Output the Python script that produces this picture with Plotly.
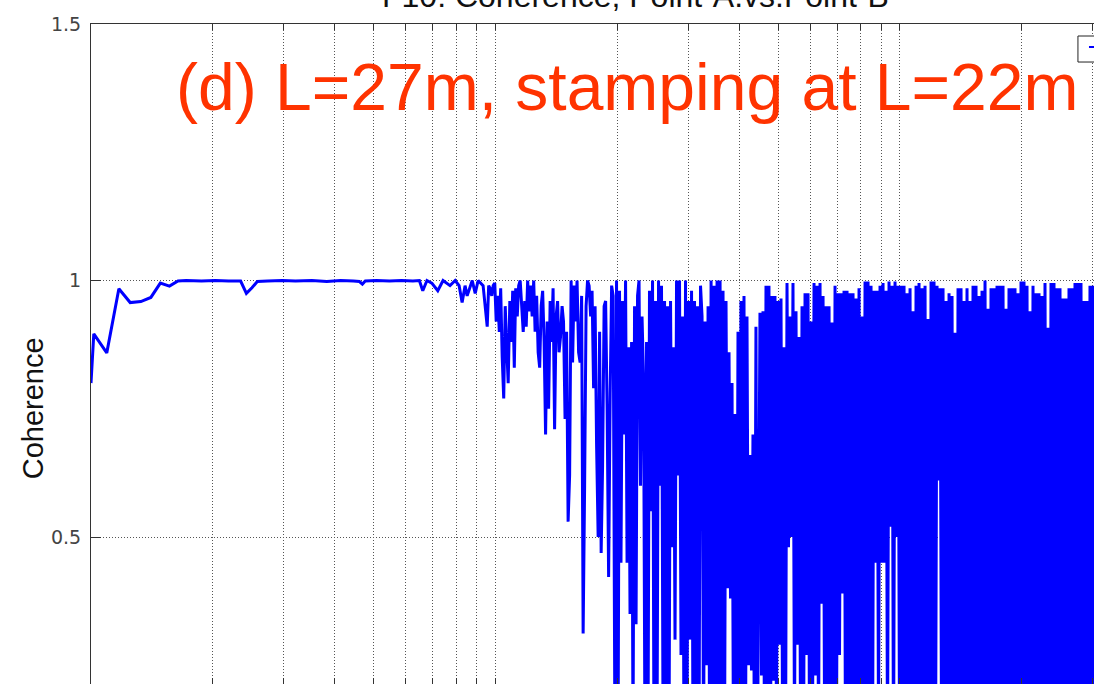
import plotly.graph_objects as go

# ---------------- data: coherence Point-A vs Point-B (frequency in Hz) ----------------
# low band (sparse FFT bins)
freq_low = [10.0, 10.16, 10.94, 11.72, 12.50, 13.28, 14.06, 14.84, 15.63, 16.41,
            17.19, 18.75, 20.31, 21.88, 23.44, 24.22, 25.00, 25.78, 27.34, 29.69,
            32.03, 35.16, 38.28, 41.41, 44.53, 46.09, 46.88, 47.66, 50.78, 54.69,
            58.59, 62.50, 64.84]
coh_low = [0.80, 0.896, 0.859, 0.984, 0.957, 0.959, 0.967, 0.995, 0.989, 0.999,
           1.0, 0.999, 1.0, 0.999, 0.999, 0.975, 0.986, 0.998, 0.999, 1.0,
           0.999, 1.0, 0.998, 1.0, 0.999, 0.998, 0.993, 0.999, 1.0, 0.999,
           1.0, 0.999, 1.0]

# 65-95 Hz
freq_b1 = [66.1, 67.7, 69.6, 72.0, 74.2, 77.2, 79.5, 81.3, 82.7, 84.1,
           85.1, 87.6, 89.1, 90.6, 93.2]
coh_b1 = [0.98, 1.0, 0.995, 0.98, 1.0, 0.99, 1.0, 0.99, 0.957, 0.99,
          0.97, 1.0, 0.975, 1.0, 0.99]

# 95-197 Hz
freq_b2 = [95.4, 96.2, 97.0, 97.9, 98.7, 99.6, 100.4, 101.3, 102.2, 103.0,
           103.9, 104.8, 105.7, 106.6, 107.5, 108.5, 109.4, 110.3, 111.3, 112.2,
           113.2, 114.1, 115.1, 116.1, 117.1, 118.1, 119.1, 120.1, 121.1, 122.2,
           123.2, 124.3, 125.3, 126.4, 127.5, 128.6, 129.7, 130.8, 131.9, 133.0,
           134.2, 135.3, 136.5, 137.6, 138.8, 140.0, 141.2, 142.4, 143.6, 144.8,
           146.1, 147.3, 148.6, 149.9, 151.2, 152.5, 153.8, 155.1, 156.4, 157.8,
           159.1, 160.5, 161.9, 163.3, 164.7, 166.1, 167.5, 168.9, 170.4, 171.9,
           173.3, 174.8, 176.3, 177.8, 179.4, 180.9, 182.5, 184.0, 185.6, 187.2,
           188.8, 190.4, 192.1, 193.7, 195.4]
coh_b2 = [0.91, 0.99, 0.985, 0.97, 0.99, 0.995, 0.92, 0.97, 0.90, 0.985,
          0.85, 0.77, 0.95, 0.87, 0.80, 0.96, 0.88, 0.98, 0.83, 0.985,
          0.93, 0.99, 1.0, 0.95, 0.90, 0.96, 0.91, 1.0, 0.94, 0.99,
          0.93, 1.0, 0.90, 0.97, 0.86, 0.83, 0.95, 0.98, 0.88, 0.70,
          0.92, 0.75, 0.96, 0.88, 0.985, 0.71, 0.93, 0.96, 0.86, 0.89,
          0.95, 0.92, 0.73, 0.90, 0.53, 0.62, 1.0, 0.84, 0.99, 0.92,
          1.0, 0.86, 0.84, 0.97, 0.312, 0.60, 0.95, 1.0, 0.99, 0.93,
          0.98, 0.79, 0.95, 0.68, 0.50, 0.90, 0.469, 0.64, 0.95, 0.96,
          0.75, 0.422, 0.78, 0.99, 0.97]

# 197-322 Hz
freq_c1 = [197.5, 199.2, 200.9, 202.6, 204.3, 206.1, 207.9, 209.7, 211.5, 213.3,
           215.1, 217.0, 218.8, 220.7, 222.6, 224.5, 226.4, 228.3, 230.3, 232.3,
           234.3, 236.3, 238.3, 240.3, 242.4, 244.5, 246.6, 248.7, 250.8, 253.0,
           255.1, 257.3, 259.5, 261.8, 264.0, 266.3, 268.6, 270.9, 273.2, 275.5,
           277.9, 280.3, 282.7, 285.1, 287.5, 290.0, 292.5, 295.0, 297.5, 300.1,
           302.7, 305.3, 307.9, 310.5, 313.2, 315.9, 318.6, 321.3]
coh_c1 = [0.05, 1.0, 0.07, 0.98, 0.45, 0.96, 0.70, 1.0, 0.45, 0.87,
          0.35, 0.88, 0.10, 0.95, 0.33, 0.97, 1.0, 0.60, 0.93, 0.81,
          0.05, 0.88, 0.10, 0.98, 0.55, 1.0, 0.05, 0.96, 0.08, 1.0,
          0.60, 0.99, 0.15, 0.96, 0.05, 0.95, 0.10, 0.96, 0.48, 0.87,
          0.30, 1.0, 0.62, 1.0, 0.27, 0.93, 0.05, 1.0, 0.10, 0.96,
          0.30, 0.98, 0.05, 0.96, 0.05, 0.95, 0.08, 0.99]

# 322-445 Hz
freq_c2 = [324.1, 326.9, 329.7, 332.5, 335.4, 338.3, 341.2, 344.1, 347.0, 350.0,
           353.0, 356.0, 359.1, 362.1, 365.2, 368.3, 371.5, 374.7, 377.9, 381.1,
           384.4, 387.7, 391.0, 394.3, 397.7, 401.1, 404.5, 408.0, 411.5, 415.0,
           418.6, 422.2, 425.8, 429.4, 433.1, 436.8, 440.5, 444.3]
coh_c2 = [0.93, 0.05, 0.92, 0.25, 0.95, 0.08, 1.0, 0.05, 0.99, 0.10,
          1.0, 0.05, 1.0, 0.15, 0.98, 0.05, 0.96, 0.40, 0.86, 0.38,
          0.80, 0.05, 0.74, 0.05, 0.90, 0.05, 0.96, 0.10, 0.97, 0.05,
          0.93, 0.25, 0.66, 0.24, 0.70, 0.05, 0.91, 0.05]

# 450-1000 Hz
freq_d = [450.7, 454.6, 458.5, 462.4, 466.4, 470.4, 474.4, 478.5, 482.6, 486.7,
          490.9, 495.1, 499.4, 503.7, 508.0, 512.4, 516.8, 521.2, 525.7, 530.2,
          534.7, 539.3, 543.9, 548.6, 553.3, 558.1, 562.9, 567.7, 572.6, 577.5,
          582.5, 587.5, 592.5, 597.6, 602.7, 607.9, 613.1, 618.4, 623.7, 629.0,
          634.4, 639.9, 645.4, 650.9, 656.5, 662.1, 667.8, 673.5, 679.3, 685.1,
          691.0, 696.9, 702.9, 708.9, 715.0, 721.1, 727.3, 733.5, 739.8, 746.1,
          752.5, 759.0, 765.5, 772.1, 778.7, 785.4, 792.1, 798.9, 805.8, 812.7,
          819.7, 826.7, 833.8, 840.9, 848.1, 855.4, 862.7, 870.1, 877.6, 885.1,
          892.7, 900.4, 908.1, 915.9, 923.7, 931.6, 939.6, 947.7, 955.8, 964.0,
          972.3, 980.6, 989.0, 997.5]
coh_d = [0.937, 0.23, 0.94, 0.06, 0.99, 0.11, 0.99, 0.03, 0.97, 0.22,
         0.97, 0.09, 0.96, 0.29, 0.965, 0.14, 0.87, 0.04, 0.995, 0.48,
         0.93, 0.50, 0.995, 0.08, 0.94, 0.29, 0.89, 0.12, 0.95, 0.02,
         0.975, 0.27, 0.975, 0.07, 0.92, 0.10, 0.995, 0.23, 0.99, 0.05,
         0.995, 0.37, 0.97, 0.13, 0.95, 0.03, 0.95, 0.09, 0.918, 0.06,
         0.99, 0.11, 0.975, 0.27, 0.975, 0.39, 0.98, 0.04, 0.98, 0.15,
         0.975, 0.08, 0.975, 0.02, 0.965, 0.10, 0.985, 0.06, 0.93, 0.12,
         0.998, 0.03, 0.998, 0.09, 0.99, 0.05, 0.98, 0.45, 0.98, 0.11,
         0.99, 0.45, 0.995, 0.45, 0.98, 0.07, 0.998, 0.52, 0.99, 0.04,
         0.998, 0.50, 0.99, 0.10]

# 1000-3050 Hz
freq_e = [1006.1, 1014.7, 1023.4, 1032.2, 1041.0, 1050.0, 1059.0, 1068.1, 1077.2, 1086.5,
          1095.8, 1105.2, 1114.7, 1124.2, 1133.9, 1143.6, 1153.4, 1163.3, 1173.3, 1183.3,
          1193.5, 1203.7, 1214.0, 1224.4, 1234.9, 1245.5, 1256.2, 1267.0, 1277.8, 1288.8,
          1299.8, 1311.0, 1322.2, 1333.6, 1345.0, 1356.5, 1368.2, 1379.9, 1391.7, 1403.6,
          1415.7, 1427.8, 1440.0, 1452.4, 1464.8, 1477.4, 1490.0, 1502.8, 1515.7, 1528.7,
          1541.8, 1555.0, 1568.3, 1581.8, 1595.3, 1609.0, 1622.8, 1636.7, 1650.7, 1664.9,
          1679.2, 1693.6, 1708.1, 1722.7, 1737.5, 1752.4, 1767.4, 1782.6, 1797.9, 1813.3,
          1828.8, 1844.5, 1860.3, 1876.3, 1892.4, 1908.6, 1924.9, 1941.4, 1958.1, 1974.9,
          1991.8, 2008.9, 2026.1, 2043.5, 2061.0, 2078.7, 2096.5, 2114.5, 2132.6, 2150.9,
          2169.3, 2187.9, 2206.7, 2225.6, 2244.7, 2263.9, 2283.3, 2302.9, 2322.6, 2342.5,
          2362.6, 2382.9, 2403.3, 2423.9, 2444.7, 2465.7, 2486.8, 2508.1, 2529.6, 2551.3,
          2573.2, 2595.3, 2617.5, 2640.0, 2662.6, 2685.4, 2708.4, 2731.6, 2755.1, 2778.7,
          2802.5, 2826.5, 2850.7, 2875.2, 2899.8, 2924.7, 2949.8, 2975.1, 3000.6, 3026.3,
          3052.2]
coh_e = [0.99, 0.07, 0.99, 0.12, 0.975, 0.04, 0.985, 0.09, 0.94, 0.02,
         0.99, 0.10, 0.995, 0.06, 0.985, 0.13, 0.99, 0.03, 0.925, 0.08,
         0.998, 0.11, 0.998, 0.05, 0.99, 0.61, 0.985, 0.09, 0.985, 0.02,
         0.96, 0.12, 0.975, 0.06, 0.97, 0.10, 0.898, 0.04, 0.985, 0.14,
         0.985, 0.03, 0.96, 0.08, 0.985, 0.11, 0.96, 0.05, 0.99, 0.09,
         0.99, 0.02, 0.97, 0.12, 0.98, 0.07, 1.0, 0.10, 0.945, 0.04,
         0.985, 0.13, 0.985, 0.06, 0.99, 0.09, 0.99, 0.03, 0.99, 0.11,
         0.945, 0.05, 0.985, 0.08, 0.985, 0.12, 0.985, 0.02, 0.975, 0.10,
         0.998, 0.06, 0.998, 0.14, 0.99, 0.04, 0.94, 0.09, 0.99, 0.07,
         0.975, 0.11, 0.975, 0.03, 0.97, 0.08, 0.995, 0.12, 0.908, 0.05,
         0.995, 0.10, 0.995, 0.06, 0.985, 0.13, 0.985, 0.02, 0.965, 0.09,
         0.965, 0.04, 0.985, 0.11, 0.985, 0.07, 0.995, 0.10, 0.995, 0.03,
         0.995, 0.12, 0.96, 0.06, 0.96, 0.09, 0.99, 0.05, 0.99, 0.08,
         0.99]

title_text = "F10: Coherence, Point-A.vs.Point-B"
ylabel_text = "Coherence"
note_text = "(d) L=27m, stamping at L=22m"

# ---------------- build ----------------
freq, coh = [], []
for fs, cs in [(freq_low, coh_low), (freq_b1, coh_b1), (freq_b2, coh_b2),
               (freq_c1, coh_c1), (freq_c2, coh_c2), (freq_d, coh_d),
               (freq_e, coh_e)]:
    for f, c in zip(fs, cs):
        freq.append(f)
        coh.append(c)

AX = "#333333"
GRID = "#555555"

fig = go.Figure()
fig.add_trace(go.Scatter(
    x=freq, y=coh, mode="lines", name="Coherence", showlegend=False,
    line=dict(color="#0000FF", width=3, simplify=False),
))

fig.update_layout(
    width=1094, height=684,
    margin=dict(l=91, r=0, t=24, b=0),
    paper_bgcolor="white", plot_bgcolor="white",
    showlegend=False,
    xaxis=dict(
        type="log", range=[1.0, 3.4797], dtick="D1",
        showgrid=True, gridcolor=GRID, gridwidth=1, griddash="1px,2px",
        showticklabels=False, ticks="inside", ticklen=6, tickcolor=AX,
        showline=True, linecolor=AX, linewidth=1, mirror="ticks", zeroline=False,
    ),
    yaxis=dict(
        range=[0.2135, 1.5], tick0=0, dtick=0.5,
        showgrid=True, gridcolor=GRID, gridwidth=1, griddash="1px,2px",
        ticks="inside", ticklen=10, tickcolor=AX,
        showline=True, linecolor=AX, linewidth=1, mirror=False, zeroline=False,
        tickfont=dict(family="DejaVu Sans", size=19, color="#444444"),
        ticklabelstandoff=5,
    ),
    annotations=[
        dict(text=title_text, xref="paper", yref="paper", x=0.5424, y=1.0124,
             xanchor="center", yanchor="bottom", showarrow=False,
             font=dict(family="Liberation Sans", size=32, color="#111111")),
        dict(text=note_text, xref="paper", yref="paper", x=0.5344, y=0.845,
             xanchor="center", yanchor="bottom", showarrow=False,
             font=dict(family="Liberation Sans", size=66, color="#FF3300")),
        dict(text=ylabel_text, xref="paper", yref="y", x=-0.0583, y=0.75,
             xanchor="center", yanchor="middle", textangle=-90, showarrow=False,
             font=dict(family="Liberation Sans", size=29, color="#111111")),
    ],
    shapes=[
        dict(type="rect", xref="paper", yref="paper", x0=0.984, x1=1.2,
             y0=0.9424, y1=0.9818, line=dict(color="#222222", width=1),
             fillcolor="white", layer="above"),
        dict(type="line", xref="paper", yref="paper", x0=0.995, x1=1.2,
             y0=0.9652, y1=0.9652, line=dict(color="#0000FF", width=2),
             layer="above"),
    ],
)

fig.write_html(
    "out.html",
    config={"displayModeBar": False},
    post_script="document.body.style.margin='0px';document.body.style.overflow='hidden';",
)
